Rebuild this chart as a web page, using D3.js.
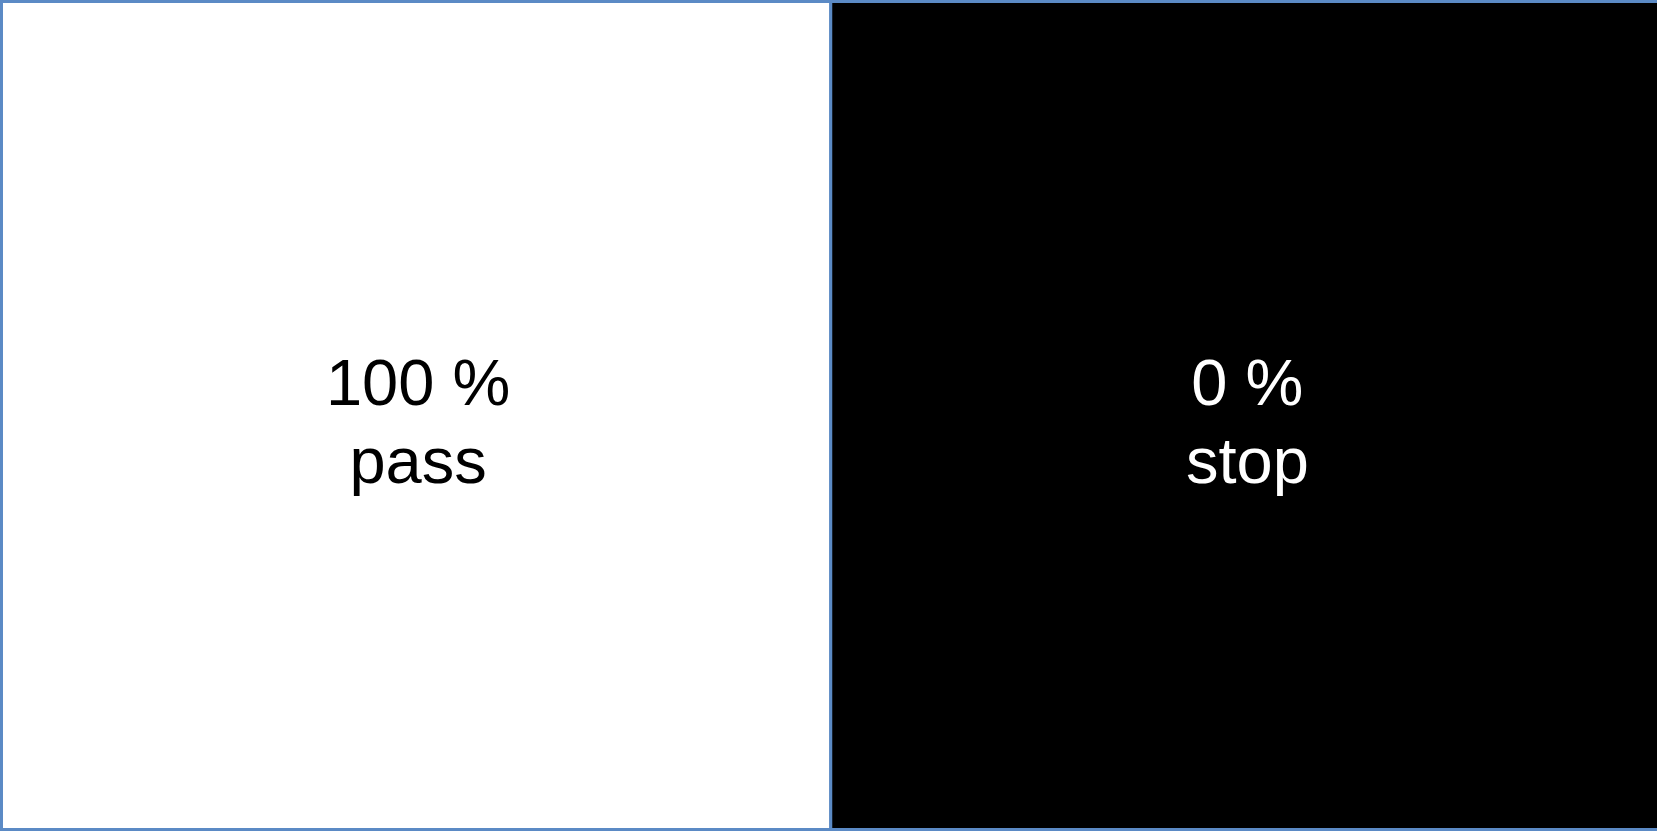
<!DOCTYPE html>
<html>
<head>
<meta charset="utf-8">
<script src="https://cdn.jsdelivr.net/npm/d3@7"></script>
<style>
  html, body { margin: 0; padding: 0; background: #ffffff; overflow: hidden; }
  svg { display: block; }
</style>
</head>
<body>
<div id="signal-chart"></div>
<script>
// data
var categories = ['pass', 'stop'];
var shares = [100, 0];          // percent
var cellColors = ['#ffffff', '#000000'];
var textColors = ['#000000', '#ffffff'];

var signal_chart = function () {
    var w = 1657,
        h = 831;

    // right cell runs just past the page edge, so no right border shows
    var x = d3.scaleBand()
        .domain(categories)
        .range([1.5, 1660]);

    var y = d3.scaleLinear()
        .domain([0, 1])
        .range([1.5, 829.5]);

    var data = categories.map(function (c, i) {
        return { name: c, value: shares[i], fill: cellColors[i], ink: textColors[i] };
    });

    var svg = d3.select('#signal-chart').append('svg')
        .attr('width', w)
        .attr('height', h);

    var cell = svg.selectAll('g.cell')
        .data(data)
        .enter().append('g')
        .attr('class', 'cell')
        .attr('transform', function (d) { return 'translate(' + x(d.name) + ',0)'; });

    cell.append('rect')
        .attr('y', y(0))
        .attr('width', x.bandwidth())
        .attr('height', y(1) - y(0))
        .attr('fill', function (d) { return d.fill; })
        .attr('stroke', '#5b8ac5')
        .attr('stroke-width', 3);

    // two line label: value, then name
    var cx = x.bandwidth() / 2 + 2;
    var label = cell.append('text')
        .attr('x', cx)
        .attr('text-anchor', 'middle')
        .attr('font-family', '"Liberation Sans", Arial, sans-serif')
        .attr('font-size', 65)
        .attr('fill', function (d) { return d.ink; });

    label.append('tspan')
        .attr('x', cx)
        .attr('y', 405)
        .text(function (d) { return d.value + ' %'; });

    label.append('tspan')
        .attr('x', cx)
        .attr('y', 483)
        .text(function (d) { return d.name; });
};

signal_chart();
</script>
</body>
</html>
